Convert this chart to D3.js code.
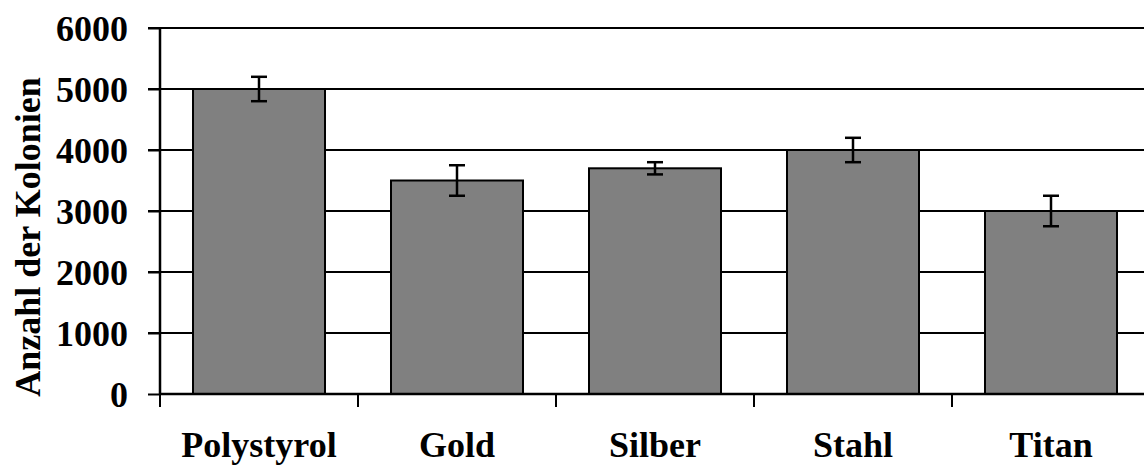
<!DOCTYPE html>
<html><head><meta charset="utf-8">
<script src="https://cdn.jsdelivr.net/npm/d3@7"></script>
<style>body{margin:0;background:#fff;overflow:hidden}svg{display:block}text{font-family:"Liberation Serif","Times New Roman",serif;font-weight:bold;fill:#000}</style>
</head><body>
<script>
const categories = ["Polystyrol", "Gold", "Silber", "Stahl", "Titan"];
const values = [5000, 3500, 3700, 4000, 3000];
const errors = [200, 250, 100, 200, 250];
const yTicks = [0, 1000, 2000, 3000, 4000, 5000, 6000];
const yLabel = "Anzahl der Kolonien";

const W = 1144, H = 466;
const svg = d3.select("body").append("svg").attr("width", W).attr("height", H);

const x = d3.scaleBand().domain(categories).range([160, 1150]).paddingInner(1/3).paddingOuter(1/6);
const y = d3.scaleLinear().domain([0, 6000]).range([394, 28]);

// gridlines
svg.append("g").selectAll("line").data(yTicks.filter(d => d > 0)).join("line")
  .attr("x1", 148).attr("x2", 1150)
  .attr("y1", d => y(d)).attr("y2", d => y(d))
  .attr("stroke", "#000").attr("stroke-width", 2);

// bars
svg.append("g").selectAll("rect").data(categories).join("rect")
  .attr("x", d => x(d)).attr("width", x.bandwidth())
  .attr("y", (d, i) => y(values[i])).attr("height", (d, i) => y(0) - y(values[i]))
  .attr("fill", "#808080").attr("stroke", "#000").attr("stroke-width", 2);

// error bars
const eb = svg.append("g").selectAll("g").data(categories).join("g")
  .attr("transform", d => `translate(${x(d) + x.bandwidth() / 2},0)`);
eb.append("line").attr("x1", 0).attr("x2", 0)
  .attr("y1", (d, i) => y(values[i] + errors[i])).attr("y2", (d, i) => y(values[i] - errors[i]))
  .attr("stroke", "#000").attr("stroke-width", 2.5);
eb.append("line").attr("x1", -8).attr("x2", 8)
  .attr("y1", (d, i) => y(values[i] + errors[i])).attr("y2", (d, i) => y(values[i] + errors[i]))
  .attr("stroke", "#000").attr("stroke-width", 2.5);
eb.append("line").attr("x1", -8).attr("x2", 8)
  .attr("y1", (d, i) => y(values[i] - errors[i])).attr("y2", (d, i) => y(values[i] - errors[i]))
  .attr("stroke", "#000").attr("stroke-width", 2.5);

// y axis
const yAxis = svg.append("g").attr("transform", "translate(160,0)")
  .call(d3.axisLeft(y).tickValues(yTicks).tickSize(12).tickPadding(20).tickFormat(d3.format("d")));
yAxis.select(".domain").attr("stroke", "#000").attr("stroke-width", 2.5).attr("d", `M0,${y(6000)}V${y(0)}`);
yAxis.selectAll(".tick line").attr("stroke", "#000").attr("stroke-width", 2);
yAxis.selectAll(".tick text").attr("font-size", 36).attr("font-family", "Liberation Serif").attr("font-weight", "bold").attr("dy", "0.34em");

// x axis
const xAxis = svg.append("g").attr("transform", `translate(0,${y(0)})`);
xAxis.append("line").attr("x1", 160).attr("x2", 1150).attr("y1", 0).attr("y2", 0)
  .attr("stroke", "#000").attr("stroke-width", 2.5);
const bounds = categories.map(c => x(c) - x.step() * x.paddingInner() / 2);
bounds.push(x(categories[categories.length - 1]) + x.bandwidth() + x.step() * x.paddingInner() / 2);
xAxis.selectAll("line.tk").data(bounds).join("line").attr("class", "tk")
  .attr("x1", d => d).attr("x2", d => d).attr("y1", 0).attr("y2", 13)
  .attr("stroke", "#000").attr("stroke-width", 2);
xAxis.selectAll("text").data(categories).join("text")
  .attr("x", d => x(d) + x.bandwidth() / 2).attr("y", 63)
  .attr("text-anchor", "middle").attr("font-size", 36).text(d => d);

// y label
svg.append("text").attr("transform", "translate(40,237) rotate(-90)")
  .attr("text-anchor", "middle").attr("font-size", 36).text(yLabel);
</script>
</body></html>
